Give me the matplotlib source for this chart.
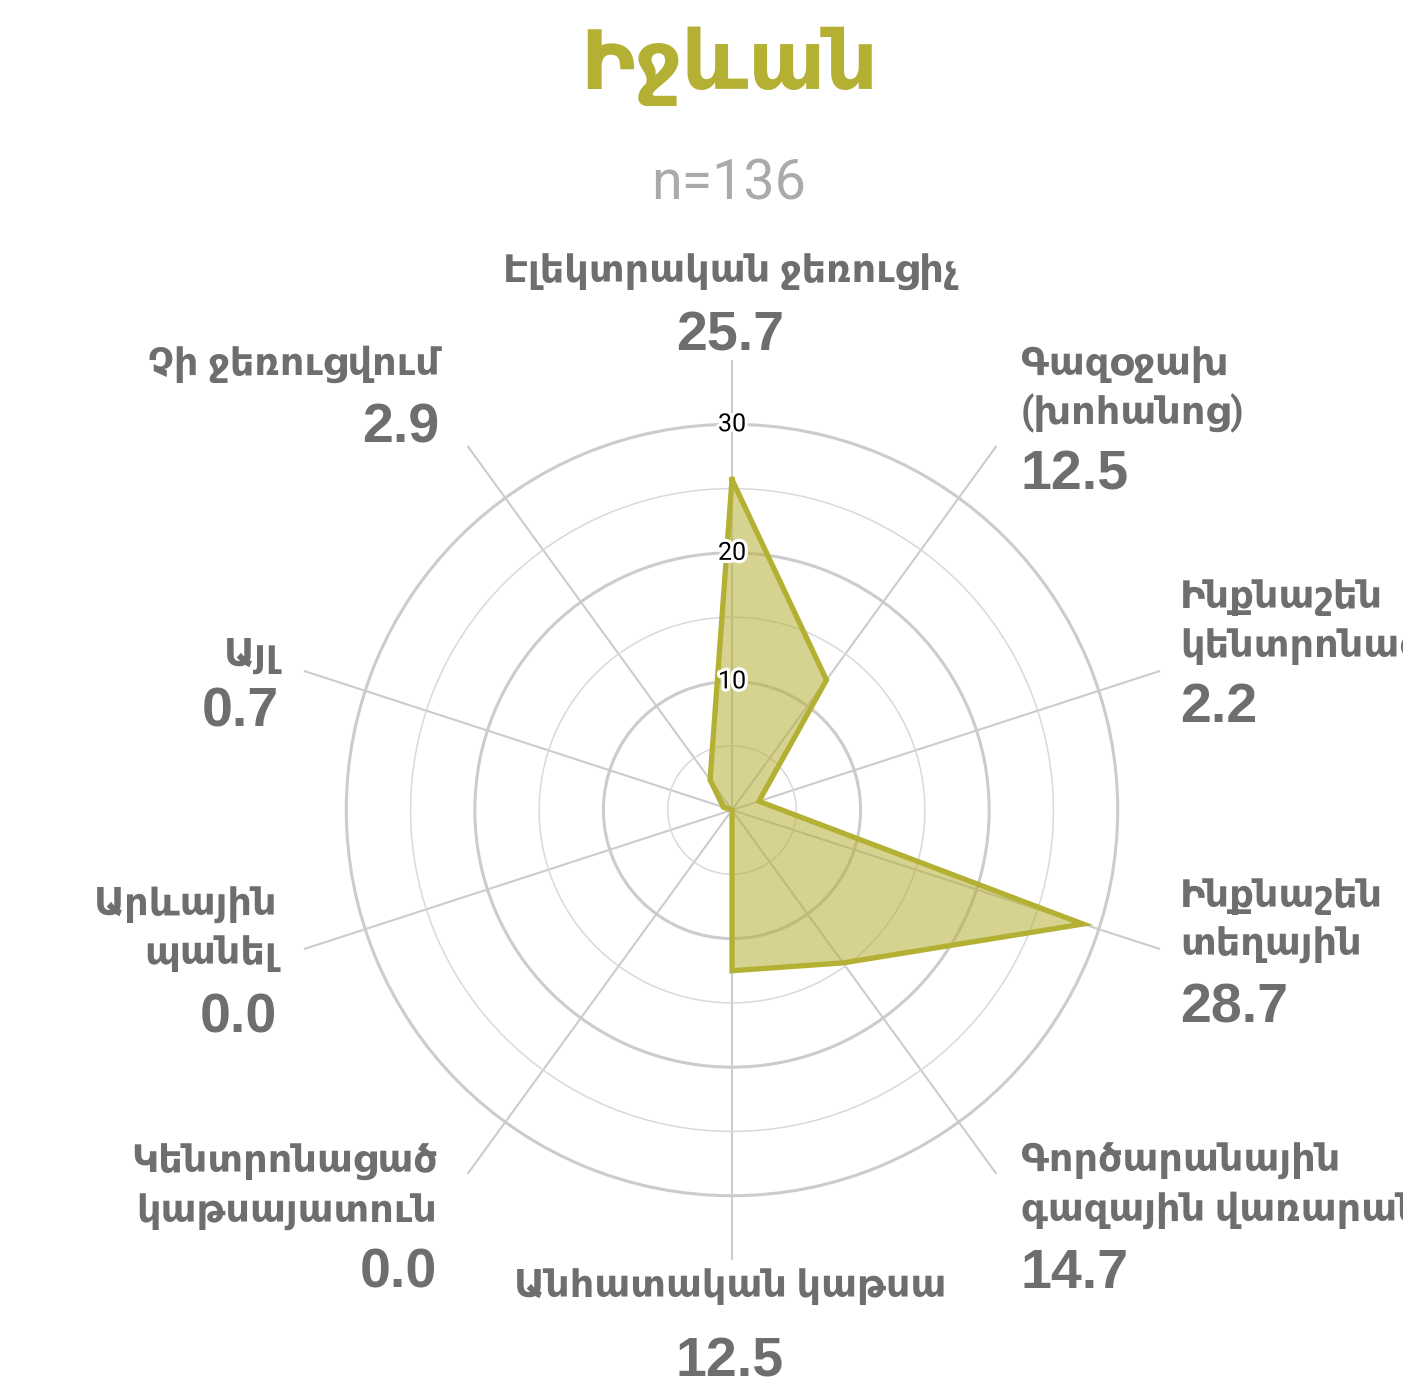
import numpy as np
import matplotlib
matplotlib.use("Agg")
import matplotlib.pyplot as plt
import matplotlib.patheffects as pe

# ---------------- data ----------------
TITLE = "Իջևան"
SUBTITLE = "n=136"
categories = [
    "Էլեկտրական ջեռուցիչ",
    "Գազօջախ\n(խոհանոց)",
    "Ինքնաշեն\nկենտրոնացված",
    "Ինքնաշեն\nտեղային",
    "Գործարանային\nգազային վառարան",
    "Անհատական կաթսա",
    "Կենտրոնացած\nկաթսայատուն",
    "Արևային\nպանել",
    "Այլ",
    "Չի ջեռուցվում",
]
values = [25.7, 12.5, 2.2, 28.7, 14.7, 12.5, 0.0, 0.0, 0.7, 2.9]
ring_ticks = [5, 10, 15, 20, 25, 30]
labelled_ticks = [10, 20, 30]
r_max = 35

# ---------------- style ----------------
OLIVE = "#b3b034"
GREY_TXT = "#6e6e6e"
GRID = "#cccccc"
GRID_MINOR = "#d9d9d9"
NAME_FONT = ["Roboto", "DejaVu Sans"]
VAL_FONT = ["Liberation Sans", "DejaVu Sans"]

# label placement relative to the spoke end, in pixels (dx, dy downward) + alignment
label_offsets = [(-2, -77), (24, -71), (20, -63), (20, -42), (24, -2),
                 (-2, 37), (-30, -1), (-27, -34), (-25, -4), (-28, -71)]
label_ha = ["center", "left", "left", "left", "left",
            "center", "right", "right", "right", "right"]
LINE_STEP = 49
VALUE_STEP = [67, 66, 65, 66, 67, 80, 65, 68, 60, 68]

W, H, DPI = 1403, 1388, 100
fig = plt.figure(figsize=(W / DPI, H / DPI), dpi=DPI)
fig.patch.set_facecolor("white")

cx, cy, R = 732, 810, 450
ax = fig.add_axes([(cx - R) / W, (H - cy - R) / H, 2 * R / W, 2 * R / H],
                  projection="polar")
ax.set_theta_zero_location("N")
ax.set_theta_direction(-1)
ax.set_ylim(0, r_max)
ax.spines["polar"].set_visible(False)
ax.set_facecolor("none")

n = len(categories)
theta = np.arange(n) * 2 * np.pi / n

ax.set_xticks(theta)
ax.set_xticklabels([])
ax.set_yticks(ring_ticks)
ax.set_yticklabels([])
ax.tick_params(length=0)
ax.xaxis.grid(True, color=GRID, linewidth=1.5)
ax.yaxis.grid(True, color=GRID, linewidth=1.0)
for t, v in zip(ax.yaxis.get_major_ticks(), ring_ticks):
    if v in labelled_ticks:
        t.gridline.set_color(GRID)
        t.gridline.set_linewidth(2.2)
    else:
        t.gridline.set_color(GRID_MINOR)
        t.gridline.set_linewidth(1.1)

th_c = np.append(theta, theta[0])
v_c = np.append(values, values[0])
ax.fill(th_c, v_c, color=OLIVE, alpha=0.55, zorder=3, linewidth=0)
ax.plot(th_c, v_c, color=OLIVE, linewidth=3.8, zorder=4, solid_joinstyle="miter")

for tv in labelled_ticks:
    ax.text(0, tv, str(tv), ha="center", va="center", fontsize=18,
            family=["Roboto", "DejaVu Sans"], color="black", zorder=6,
            path_effects=[pe.withStroke(linewidth=4.5, foreground="white")])

for i, (name, val) in enumerate(zip(categories, values)):
    dx, dy = label_offsets[i]
    lines = name.split("\n")
    for j, line in enumerate(lines):
        ax.annotate(line, xy=(theta[i], r_max), xytext=(dx, -(dy + j * LINE_STEP)),
                    textcoords="offset pixels", ha=label_ha[i], va="baseline",
                    fontsize=27.5, fontweight="bold", family=NAME_FONT, color=GREY_TXT,
                    annotation_clip=False)
    vy = dy + (len(lines) - 1) * LINE_STEP + VALUE_STEP[i]
    ax.annotate(f"{val:.1f}", xy=(theta[i], r_max), xytext=(dx, -vy),
                textcoords="offset pixels", ha=label_ha[i], va="baseline",
                fontsize=40, fontweight="bold", family=VAL_FONT, color=GREY_TXT,
                annotation_clip=False)

fig.text(729 / W, 1 - 89 / H, TITLE, ha="center", va="baseline", fontsize=59,
         fontweight="bold", family=NAME_FONT, color=OLIVE)
fig.text(729 / W, 1 - 199 / H, SUBTITLE, ha="center", va="baseline", fontsize=40,
         family=["Roboto", "DejaVu Sans"], color="#aaaaaa")

fig.savefig("out.png", dpi=DPI, facecolor="white")
